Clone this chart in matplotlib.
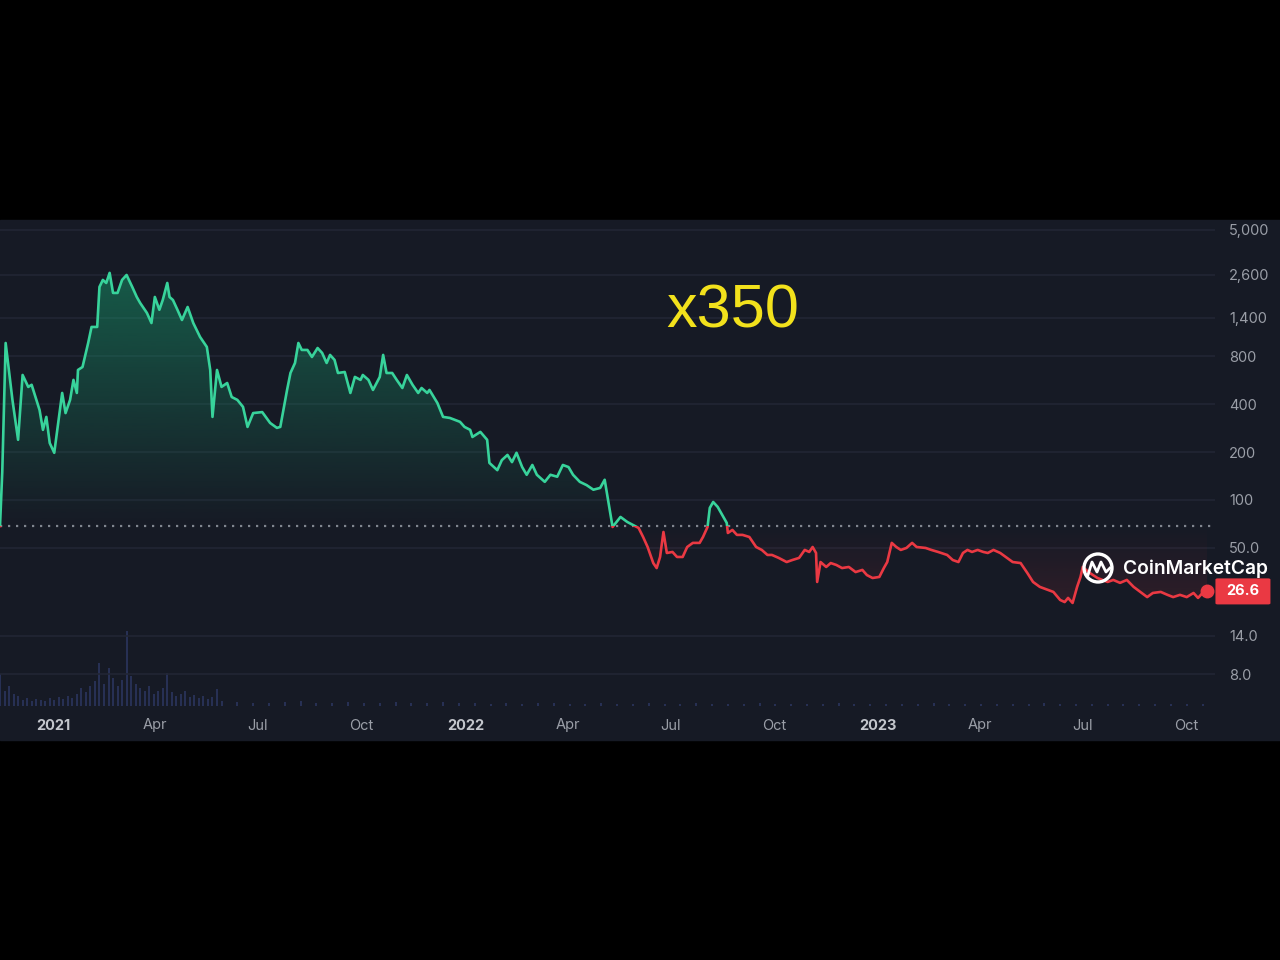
import numpy as np
import pandas as pd
import matplotlib
matplotlib.use("Agg")
import matplotlib.pyplot as plt
from matplotlib.patches import Rectangle, Circle
from matplotlib.transforms import blended_transform_factory
from matplotlib.path import Path
from matplotlib.ticker import FixedLocator, FixedFormatter, NullLocator
from matplotlib.colors import to_rgb

# ---- data ----
dates = [
    "2020-11-15", "2020-11-17", "2020-11-20", "2020-11-26", "2020-12-01", "2020-12-05", "2020-12-10",
    "2020-12-13", "2020-12-20", "2020-12-23", "2020-12-26", "2020-12-29",
    "2021-01-02", "2021-01-09", "2021-01-12", "2021-01-16", "2021-01-19", "2021-01-22", "2021-01-23", "2021-01-27",
    "2021-02-01", "2021-02-04", "2021-02-09", "2021-02-11", "2021-02-14", "2021-02-17", "2021-02-20", "2021-02-23", "2021-02-27",
    "2021-03-03", "2021-03-07", "2021-03-12", "2021-03-16", "2021-03-19", "2021-03-25", "2021-03-29",
    "2021-04-01", "2021-04-05", "2021-04-08", "2021-04-12", "2021-04-14", "2021-04-17", "2021-04-21", "2021-04-25", "2021-04-30",
    "2021-05-05", "2021-05-11", "2021-05-17", "2021-05-20", "2021-05-22", "2021-05-26", "2021-05-30",
    "2021-06-04", "2021-06-08", "2021-06-13", "2021-06-18", "2021-06-22", "2021-06-27",
    "2021-07-05", "2021-07-12", "2021-07-18", "2021-07-21", "2021-07-27", "2021-07-30",
    "2021-08-03", "2021-08-06", "2021-08-09", "2021-08-14", "2021-08-18", "2021-08-23", "2021-08-27", "2021-08-31",
    "2021-09-03", "2021-09-07", "2021-09-10", "2021-09-16", "2021-09-21", "2021-09-25", "2021-09-30",
    "2021-10-02", "2021-10-07", "2021-10-11", "2021-10-17", "2021-10-20", "2021-10-23", "2021-10-28",
    "2021-11-01", "2021-11-06", "2021-11-10", "2021-11-15", "2021-11-20", "2021-11-23", "2021-11-28", "2021-11-30",
    "2021-12-07", "2021-12-12", "2021-12-18", "2021-12-27", "2021-12-31",
    "2022-01-05", "2022-01-07", "2022-01-14", "2022-01-20", "2022-01-22", "2022-01-29",
    "2022-02-02", "2022-02-07", "2022-02-11", "2022-02-15", "2022-02-20", "2022-02-24",
    "2022-03-01", "2022-03-05", "2022-03-12", "2022-03-17", "2022-03-23", "2022-03-28",
    "2022-04-02", "2022-04-06", "2022-04-12", "2022-04-18", "2022-04-24", "2022-04-30",
    "2022-05-04", "2022-05-07", "2022-05-11", "2022-05-18", "2022-05-24", "2022-05-29",
    "2022-06-03", "2022-06-07", "2022-06-11", "2022-06-16", "2022-06-19", "2022-06-22", "2022-06-25", "2022-06-28",
    "2022-07-03", "2022-07-07", "2022-07-12", "2022-07-16", "2022-07-21", "2022-07-27", "2022-07-30",
    "2022-08-03", "2022-08-05", "2022-08-08", "2022-08-12", "2022-08-17", "2022-08-20", "2022-08-21", "2022-08-25", "2022-08-29",
    "2022-09-03", "2022-09-09", "2022-09-15", "2022-09-20", "2022-09-25", "2022-09-29",
    "2022-10-05", "2022-10-12", "2022-10-17", "2022-10-23", "2022-10-28",
    "2022-11-01", "2022-11-04", "2022-11-07", "2022-11-08", "2022-11-11", "2022-11-16", "2022-11-20", "2022-11-25", "2022-11-30",
    "2022-12-06", "2022-12-12", "2022-12-18", "2022-12-22", "2022-12-27",
    "2023-01-02", "2023-01-06", "2023-01-09", "2023-01-13", "2023-01-17", "2023-01-21", "2023-01-26", "2023-01-31",
    "2023-02-04", "2023-02-12", "2023-02-17", "2023-02-23",
    "2023-03-03", "2023-03-08", "2023-03-13", "2023-03-17", "2023-03-21", "2023-03-25", "2023-03-30",
    "2023-04-04", "2023-04-08", "2023-04-13", "2023-04-19", "2023-04-25", "2023-04-30",
    "2023-05-07", "2023-05-13", "2023-05-18", "2023-05-24", "2023-05-31",
    "2023-06-05", "2023-06-11", "2023-06-15", "2023-06-18", "2023-06-22", "2023-06-26", "2023-06-29",
    "2023-07-01", "2023-07-06", "2023-07-14", "2023-07-23", "2023-07-28",
    "2023-08-03", "2023-08-09", "2023-08-15", "2023-08-21", "2023-08-27",
    "2023-09-01", "2023-09-08", "2023-09-14", "2023-09-19", "2023-09-25",
    "2023-10-01", "2023-10-07", "2023-10-11", "2023-10-15", "2023-10-19",
]
prices = [
    68.6, 150, 971, 426, 239, 611, 514, 530, 368, 276, 333, 228,
    198, 471, 352, 426, 569, 471, 657, 686,
    971, 1225, 1225, 2187, 2420, 2316, 2680, 2005, 2005,
    2420, 2600, 2187, 1891, 1734, 1500, 1297,
    1891, 1570, 1810, 2316, 1891, 1810, 1570, 1355, 1636,
    1297, 1060, 917, 657, 333, 657, 514,
    544, 444, 426, 385, 288, 352,
    357, 305, 284, 288, 492, 629,
    727, 971, 878, 878, 793, 903, 841, 727,
    817, 760, 629, 638, 471, 594, 569,
    611, 569, 492, 594, 817, 629, 629,
    569, 506, 611, 530, 471, 506, 471, 492,
    407, 333, 328, 310, 288,
    276, 249, 268, 239, 171, 154,
    178, 192, 173, 198, 161, 144,
    166, 144, 130, 144, 140, 166,
    161, 144, 130, 124, 116, 119,
    134, 100, 67.6, 78.2, 72.7, 69.6,
    66.7, 58.5, 50.6, 40.1, 37.3, 43.8, 62.9, 46.4,
    47.1, 43.8, 43.8, 50.6, 53.7, 53.7, 58.5,
    67.6, 89.1, 97.1, 90.4, 78.2, 71.7, 62.0, 64.8, 60.3,
    60.3, 58.5, 50.6, 48.5, 45.1, 45.1,
    43.2, 40.7, 41.9, 43.2, 48.5,
    47.1, 50.6, 46.4, 30.5, 40.7, 37.9, 40.1, 39.0, 37.3,
    37.9, 35.2, 36.3, 33.7, 32.3,
    32.8, 37.3, 40.7, 53.7, 50.6, 48.5, 49.9, 53.7,
    50.6, 49.9, 48.5, 47.1,
    45.1, 41.9, 40.7, 46.4, 48.5, 47.1, 48.5,
    47.1, 46.4, 48.5, 46.4, 43.2, 40.7,
    40.1, 34.7, 30.5, 28.4, 27.2,
    26.4, 23.5, 22.8, 24.2, 22.5, 28.4, 32.8,
    37.9, 35.2, 32.3, 30.5, 31.4,
    30.1, 31.4, 28.4, 26.4, 24.5,
    26.0, 26.4, 25.3, 24.5, 25.3,
    24.5, 26.0, 24.2, 26.0, 26.6,
]
base_price = 68.6
last_label = "26.6"

# volume (relative units), every 4 days from 2020-11-15, then every 14 days
vol_early = [32, 15, 20, 12, 10, 6, 8, 5, 7, 6, 5, 8, 6, 9, 7, 10, 8, 12, 18, 14,
             20, 25, 43, 22, 38, 28, 20, 26, 75, 30, 22, 18, 15, 20, 12, 15, 18, 33, 14, 10,
             12, 15, 9, 11, 8, 10, 7, 9, 17, 5]
vol_late = [4, 3, 3, 4, 5, 3, 3, 4, 3, 3, 4, 3, 3, 4, 3, 3, 2, 3, 2, 3, 3, 2, 2, 3, 2, 2,
            3, 2, 2, 3, 2, 2, 2, 3, 2, 2, 2, 2, 3, 2, 2, 2, 2, 2, 3, 2, 2, 2, 2, 2, 2, 3,
            2, 2, 2, 2, 2, 2, 2, 2, 2, 2]

y_ticks = [8, 14, 50, 100, 200, 400, 800, 1400, 2600, 5000]
y_labels = ["8.0", "14.0", "50.0", "100", "200", "400", "800", "1,400", "2,600", "5,000"]
x_ticks = ["2021-01-01", "2021-04-01", "2021-07-01", "2021-10-01", "2022-01-01", "2022-04-01",
           "2022-07-01", "2022-10-01", "2023-01-01", "2023-04-01", "2023-07-01", "2023-10-01"]
x_labels = ["2021", "Apr", "Jul", "Oct", "2022", "Apr", "Jul", "Oct", "2023", "Apr", "Jul", "Oct"]

# ---- style ----
PANEL = "#161a25"
GREEN = "#38d39b"
RED = "#ea3943"
GRID = "#222634"
plt.rcParams["font.family"] = ["Inter", "DejaVu Sans"]

W, H = 1280, 960
def box(l, t, r, b):
    return [l / W, 1 - b / H, (r - l) / W, (b - t) / H]

fig = plt.figure(figsize=(12.8, 9.6), dpi=100, facecolor="black")
fig.add_artist(Rectangle((0, 1 - 740 / H), 1, 520 / H, transform=fig.transFigure,
                         color=PANEL, zorder=-5))

xmin, xmax = pd.Timestamp("2020-11-15"), pd.Timestamp("2023-10-26")
ymin, ymax = 5.06, 5600

# volume
vax = fig.add_axes(box(0, 606, 1215, 706))
vax.set_facecolor("none")
vax.axis("off")
vd1 = pd.date_range("2020-11-15", periods=len(vol_early), freq="4D")
vd2 = pd.date_range("2021-06-13", periods=len(vol_late), freq="14D")
vax.vlines(vd1, 0, vol_early, color="#29335a", lw=1.3)
vax.vlines(vd2, 0, vol_late, color="#29335a", lw=1.3)
vax.set_xlim(xmin, xmax)
vax.set_ylim(0, 100)

# price
ax = fig.add_axes(box(0, 222, 1215, 706))
ax.set_facecolor("none")
ax.set_yscale("log")
d = pd.to_datetime(dates)
p = np.array(prices)

fill = ax.fill_between(d, p, base_price, facecolor="none", edgecolor="none")
clip = Path.make_compound_path(*fill.get_paths())

bf = (np.log10(base_price) - np.log10(ymin)) / (np.log10(ymax) - np.log10(ymin))
n = 256
g_img = np.zeros((n, 1, 4))
g_img[:, 0, :3] = to_rgb("#16c784")
g_img[:, 0, 3] = np.linspace(0.45, 0.0, n)
r_img = np.zeros((n, 1, 4))
r_img[:, 0, :3] = to_rgb(RED)
r_img[:, 0, 3] = np.linspace(0.0, 0.28, n)
im1 = ax.imshow(g_img, extent=[0, 1, bf, 1], transform=ax.transAxes, aspect="auto", zorder=1)
im2 = ax.imshow(r_img, extent=[0, 1, 0, bf], transform=ax.transAxes, aspect="auto", zorder=1)
im1.set_clip_path(clip, transform=ax.transData)
im2.set_clip_path(clip, transform=ax.transData)

blend = blended_transform_factory(ax.transAxes, ax.transData)
up = Rectangle((0, base_price), 1, 1e6, transform=blend)
dn = Rectangle((0, 1e-3), 1, base_price - 1e-3, transform=blend)
gl, = ax.plot(d, p, color=GREEN, lw=1.9, zorder=3, solid_joinstyle="round")
gl.set_clip_path(up)
rl, = ax.plot(d, p, color=RED, lw=1.9, zorder=3, solid_joinstyle="round")
rl.set_clip_path(dn)

ax.axhline(base_price, color="#80858f", lw=1.6, ls=(0, (1, 2.6)), zorder=2)
ax.plot(d[-1:], p[-1:], "o", ms=9, color=RED, zorder=4, clip_on=False)

ax.set_xlim(xmin, xmax)
ax.set_ylim(ymin, ymax)
ax.yaxis.set_major_locator(FixedLocator(y_ticks))
ax.yaxis.set_major_formatter(FixedFormatter(y_labels))
ax.yaxis.set_minor_locator(NullLocator())
ax.yaxis.tick_right()
ax.set_xticks(pd.to_datetime(x_ticks))
ax.set_xticklabels(x_labels)
ax.tick_params(axis="y", length=0, pad=10, labelsize=10.5, labelcolor="#9a9ea7")
ax.tick_params(axis="x", length=0, pad=9, labelsize=10.5, labelcolor="#9a9ea7")
for lab in ax.get_xticklabels():
    if lab.get_text().startswith("20"):
        lab.set_fontweight("bold")
        lab.set_color("#c3c6cc")
ax.yaxis.grid(True, color=GRID, lw=1.2)
ax.set_axisbelow(True)
for s in ax.spines.values():
    s.set_visible(False)

ax.text(1.023, p[-1], last_label, transform=blend, ha="center", va="center",
        fontsize=10.5, fontweight="bold", color="white", clip_on=False, zorder=6,
        bbox=dict(boxstyle="round,pad=0.75,rounding_size=0.15", fc=RED, ec="none",
                  mutation_aspect=0.55))

# overlay: watermark and label
ov = fig.add_axes([0, 0, 1, 1])
ov.set_xlim(0, W)
ov.set_ylim(H, 0)
ov.axis("off")
ov.text(733, 312, "x350", fontsize=44, color="#f2e11c", ha="center", va="center",
        family="Liberation Sans")
ov.add_patch(Circle((1098, 568), 14, fill=False, ec="white", lw=2.4))
ov.plot([1088, 1092, 1097, 1101, 1106, 1110], [575, 562, 572, 562, 572, 568], color="white", lw=2)
ov.text(1123, 569, "CoinMarketCap", fontsize=13.8, color="white", fontweight="semibold",
        ha="left", va="center")

fig.savefig("out.png", dpi=100, facecolor="black")
